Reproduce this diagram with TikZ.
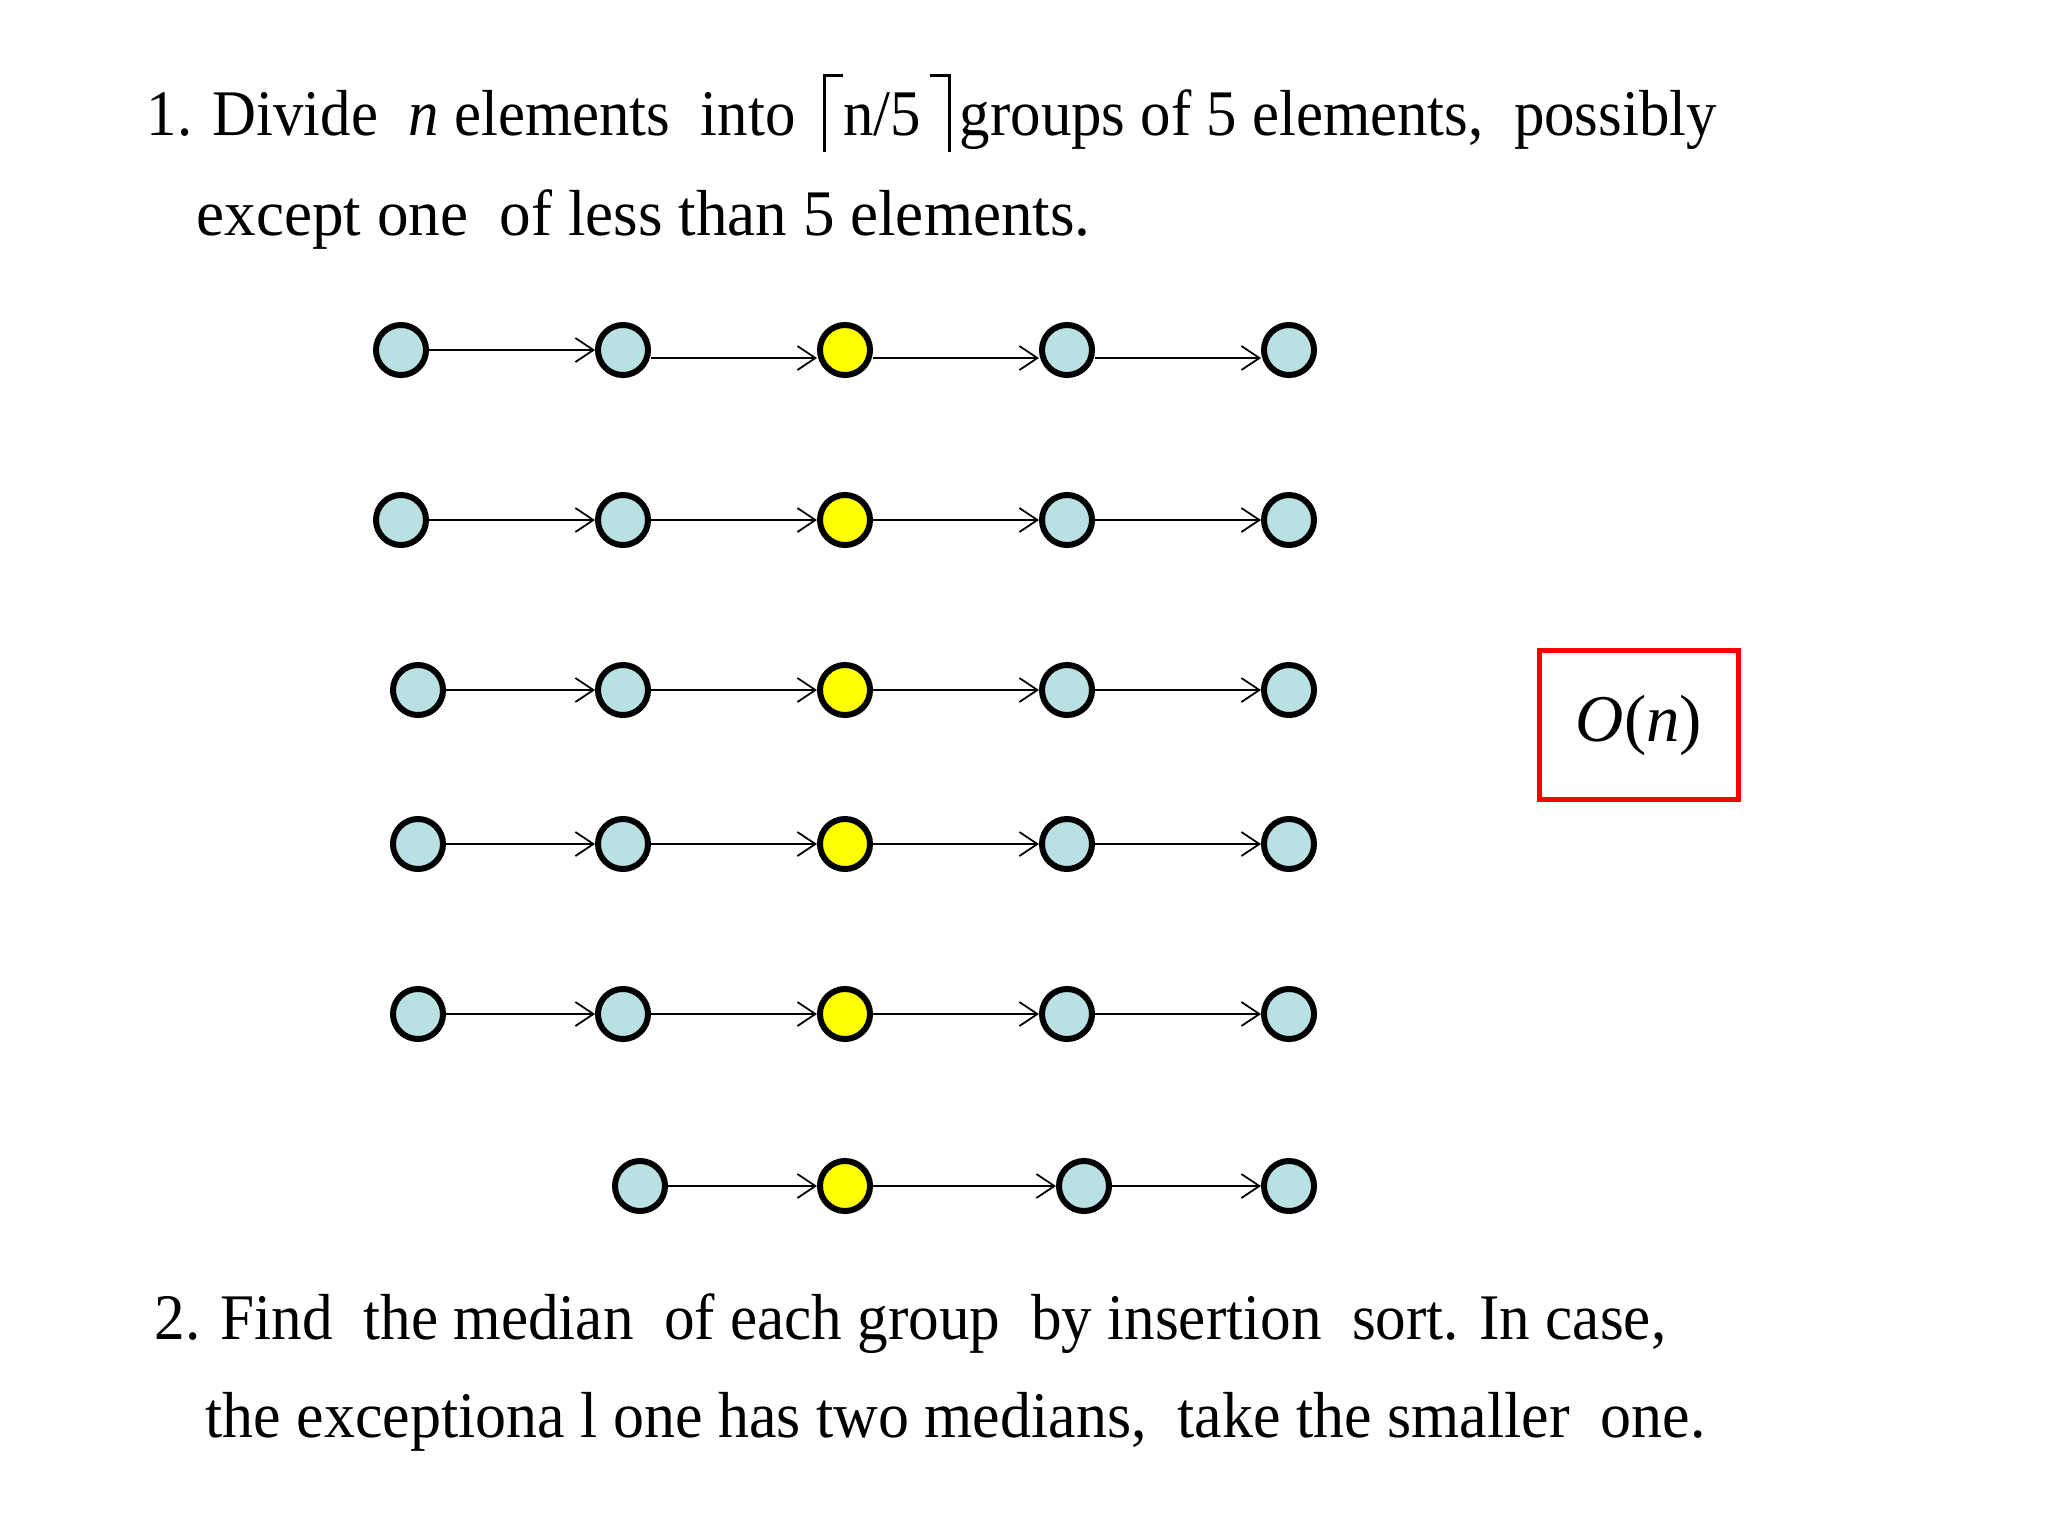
\documentclass[tikz,border=0pt]{standalone}
\usepackage{fontspec}
\setmainfont{Liberation Serif}
\usetikzlibrary{arrows.meta}
\definecolor{nodeblue}{RGB}{185,224,226}
\definecolor{nodeyellow}{RGB}{255,255,0}
\definecolor{boxred}{RGB}{255,0,0}
\newcommand\wgap{\hspace{0.5em}}
\newcommand\myceilL{\rule[-0.17cm]{0.03cm}{0.78cm}\rule[0.58cm]{0.19cm}{0.03cm}}
\newcommand\myceilR{\rule[0.58cm]{0.19cm}{0.03cm}\rule[-0.17cm]{0.03cm}{0.78cm}}
\tikzset{
  elem/.style={circle, draw=black, line width=0.06cm, fill=nodeblue, inner sep=0pt, minimum size=0.50cm},
  med/.style={elem, fill=nodeyellow},
  arr/.style={line width=0.5pt, -{Straight Barb[length=0.18cm,width=0.24cm]}},
  txt/.style={anchor=base west, inner sep=0pt, font=\fontsize{18.5}{22}\selectfont},
  cost/.style={draw=boxred, line width=0.05cm, minimum width=1.99cm, minimum height=1.49cm, inner sep=0pt, font=\fontsize{19}{22}\selectfont}
}
\begin{document}
\begin{tikzpicture}[x=0.01cm,y=-0.01cm]
\useasboundingbox (0,0) rectangle (2048,1536);

% step 1 text
\node[txt] (t1) at (146,135) {\scalebox{0.935}[1]{1. Divide\wgap\textit{n} elements\wgap into\hspace{0.2em} \myceilL n/5\hspace{0.15em}\myceilR\hspace{0.15em}groups of 5 elements,\wgap possibly}};
\node[txt] (t2) at (196,235) {\scalebox{0.970}[1]{except one\wgap of less than 5 elements.}};

% row 1
\node[elem] (a1) at (401,350) {};
\node[elem] (a2) at (623,350) {};
\node[med]  (a3) at (845,350) {};
\node[elem] (a4) at (1067,350) {};
\node[elem] (a5) at (1289,350) {};
\draw[arr] (a1) -- (a2);
\draw[arr] ([yshift=-0.08cm]a2.east) -- ([yshift=-0.08cm]a3.west);
\draw[arr] ([yshift=-0.08cm]a3.east) -- ([yshift=-0.08cm]a4.west);
\draw[arr] ([yshift=-0.08cm]a4.east) -- ([yshift=-0.08cm]a5.west);

% row 2
\node[elem] (b1) at (401,520) {};
\node[elem] (b2) at (623,520) {};
\node[med]  (b3) at (845,520) {};
\node[elem] (b4) at (1067,520) {};
\node[elem] (b5) at (1289,520) {};
\draw[arr] (b1) -- (b2);
\draw[arr] (b2) -- (b3);
\draw[arr] (b3) -- (b4);
\draw[arr] (b4) -- (b5);

% row 3
\node[elem] (c1) at (418,690) {};
\node[elem] (c2) at (623,690) {};
\node[med]  (c3) at (845,690) {};
\node[elem] (c4) at (1067,690) {};
\node[elem] (c5) at (1289,690) {};
\draw[arr] (c1) -- (c2);
\draw[arr] (c2) -- (c3);
\draw[arr] (c3) -- (c4);
\draw[arr] (c4) -- (c5);

% row 4
\node[elem] (d1) at (418,844) {};
\node[elem] (d2) at (623,844) {};
\node[med]  (d3) at (845,844) {};
\node[elem] (d4) at (1067,844) {};
\node[elem] (d5) at (1289,844) {};
\draw[arr] (d1) -- (d2);
\draw[arr] (d2) -- (d3);
\draw[arr] (d3) -- (d4);
\draw[arr] (d4) -- (d5);

% row 5
\node[elem] (e1) at (418,1014) {};
\node[elem] (e2) at (623,1014) {};
\node[med]  (e3) at (845,1014) {};
\node[elem] (e4) at (1067,1014) {};
\node[elem] (e5) at (1289,1014) {};
\draw[arr] (e1) -- (e2);
\draw[arr] (e2) -- (e3);
\draw[arr] (e3) -- (e4);
\draw[arr] (e4) -- (e5);

% row 6 (exceptional group)
\node[elem] (f1) at (640,1186) {};
\node[med]  (f2) at (845,1186) {};
\node[elem] (f3) at (1084,1186) {};
\node[elem] (f4) at (1289,1186) {};
\draw[arr] (f1) -- (f2);
\draw[arr] (f2) -- (f3);
\draw[arr] (f3) -- (f4);

% cost box
\node[cost] (cost) at (1639,725) {\textit{O}(\textit{n})};

% step 2 text
\node[txt] (t3) at (154,1339) {\scalebox{0.940}[1]{2. Find\wgap the median\wgap of each group\wgap by insertion\wgap sort. In case,}};
\node[txt] (t4) at (205,1437) {\scalebox{0.952}[1]{the exceptiona l one has two medians,\wgap take the smaller\wgap one.}};
\end{tikzpicture}
\end{document}
